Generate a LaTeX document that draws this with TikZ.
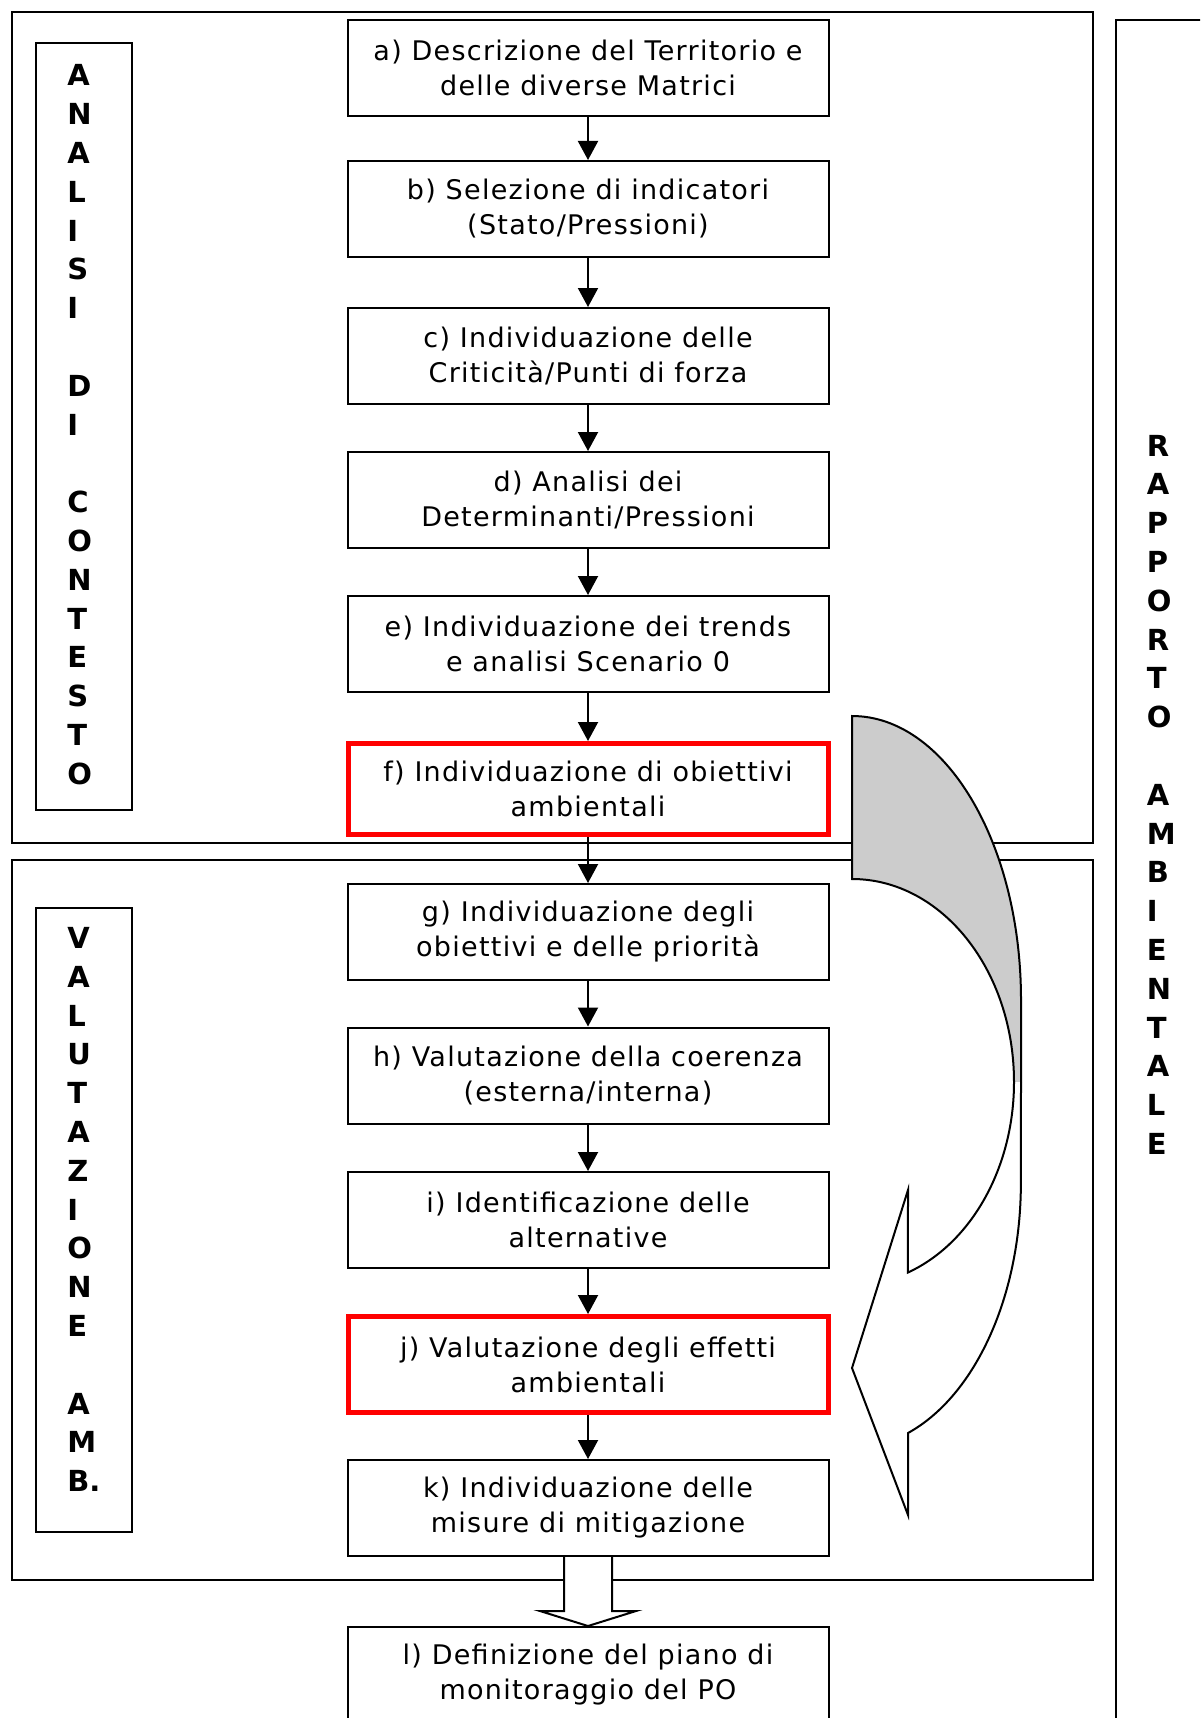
\documentclass[tikz,border=0pt]{standalone}
\usepackage{fontspec}
\setmainfont{DejaVu Sans}
\newfontfamily\boxfont[LetterSpace=4.7]{DejaVu Sans}
\usetikzlibrary{arrows.meta}

\begin{document}
\begin{tikzpicture}[x=0.5pt, y=-0.5pt,
    frame/.style ={draw, line width=1pt},
    stepbox/.style ={draw, line width=1pt, inner sep=0pt, minimum width=240.5pt, minimum height=48pt,
      align=center, font={\boxfont\fontsize{13.5pt}{17.5pt}\selectfont}},
    keybox/.style ={stepbox, draw=red, line width=2.5pt, minimum width=240pt},
    vlabel/.style ={inner sep=0pt, anchor=west, align=left,
      font={\fontsize{14.5pt}{19.4pt}\selectfont\bfseries}},
    flow/.style ={line width=1pt, -{Triangle[width=10pt, length=9.5pt]}},
    bigarrow/.style ={draw, line width=1pt, fill=white}]
   \useasboundingbox (0,0) rectangle (1200,1718);
   \clip (0,0) rectangle (1200,1718);

   \draw[frame] (12,12) rectangle (1093,843);
   \draw[frame] (12,860) rectangle (1093,1580);
   \draw[frame] (1116,1760) -- (1116,20) -- (1240,20);
   \draw[frame] (36,43) rectangle (132,810);
   \draw[frame] (36,908) rectangle (132,1532);

   \node[vlabel] (an) at (67,424.8) {A\\N\\A\\L\\I\\S\\I\\~\\D\\I\\~\\C\\O\\N\\T\\E\\S\\T\\O};
   \node[vlabel] (va) at (67,1209.6) {V\\A\\L\\U\\T\\A\\Z\\I\\O\\N\\E\\~\\A\\M\\B.};
   \node[vlabel] (ra) at (1146.5,794.8) {R\\A\\P\\P\\O\\R\\T\\O\\~\\A\\M\\B\\I\\E\\N\\T\\A\\L\\E};

   \node[stepbox] (a) at (588,68)   {a) Descrizione del Territorio e\\delle diverse Matrici};
   \node[stepbox] (b) at (588,209)  {b) Selezione di indicatori\\(Stato/Pressioni)};
   \node[stepbox] (c) at (588,356)  {c) Individuazione delle\\Criticità/Punti di forza};
   \node[stepbox] (d) at (588,500)  {d) Analisi dei\\Determinanti/Pressioni};
   \node[stepbox] (e) at (588,644)  {e) Individuazione dei trends\\e analisi Scenario 0};
   \node[keybox, minimum height=45.5pt] (f) at (588,789) {f) Individuazione di obiettivi\\ambientali};
   \node[stepbox] (g) at (588,932)  {g) Individuazione degli\\obiettivi e delle priorità};
   \node[stepbox] (h) at (588,1075.5) {h) Valutazione della coerenza\\(esterna/interna)};
   \node[stepbox] (i) at (588,1220) {i) Identificazione delle\\alternative};
   \node[keybox] (j) at (588,1364.5) {j) Valutazione degli effetti\\ambientali};
   \node[stepbox] (k) at (588,1508) {k) Individuazione delle\\misure di mitigazione};
   \node[stepbox] (l) at (588,1675) {l) Definizione del piano di\\monitoraggio del PO};

   \draw[flow] (a) to (b);
   \draw[flow] (b) to (c);
   \draw[flow] (c) to (d);
   \draw[flow] (d) to (e);
   \draw[flow] (e) to (f);
   \draw[flow] (f) to (g);
   \draw[flow] (g) to (h);
   \draw[flow] (h) to (i);
   \draw[flow] (i) to (j);
   \draw[flow] (j) to (k);
   \draw[bigarrow] ([xshift=-12pt]k.south) -- ++(0,54) -- ++(-24,0) -- (l.north)
      -- ++(48,-15) -- ++(-24,0) -- ([xshift=12pt]k.south);

   % curved arrow from f down to j
   \draw[line width=1pt, fill=gray!40] (1014,1082) arc[start angle=0, end angle=-90, x radius=162, y radius=203]
      -- (852,716) arc[start angle=-90, end angle=0, x radius=169, y radius=284] -- (1021,1082);
   \draw[line width=1pt, fill=white] (1014,1082) arc[start angle=0, end angle=69.8, x radius=162, y radius=203]
      -- (908,1190) -- (852,1368) -- (908,1515) -- (908,1433)
      arc[start angle=70.6, end angle=0, x radius=169, y radius=265] -- (1021,1082);
\end{tikzpicture}
\end{document}
